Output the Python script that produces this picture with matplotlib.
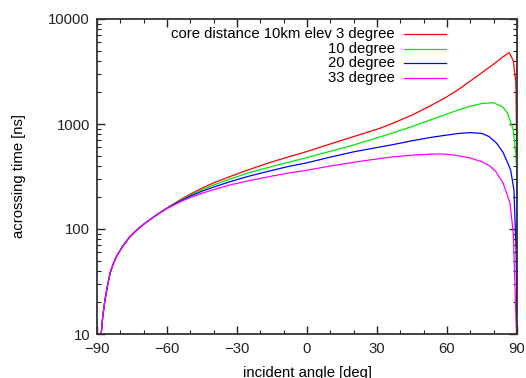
import matplotlib
matplotlib.use('Agg')
import matplotlib.pyplot as plt
from matplotlib.ticker import FixedLocator, NullFormatter, LogLocator

plt.rcParams['font.family'] = ['Liberation Sans', 'DejaVu Sans']

# shared rising part (curves overlap here)
x_start = [-88.2, -87.5, -86.6, -85.5, -84.4, -83, -81.6, -79, -76, -73, -70, -66, -62]
y_start = [10, 15, 21, 28.8, 38, 46.8, 55, 68.4, 84, 97.7, 111, 129, 148]

x_mid = [-58, -54, -50, -45, -40, -33, -25, -16, -8, 0, 10, 20, 31, 36, 45, 53]
red_mid = [169, 192, 215, 245, 275, 316, 367, 429, 486, 547, 646, 759, 906, 1000, 1216, 1496]
green_mid = [168, 189, 210, 237, 263, 299, 343, 389, 432, 479, 550, 631, 750, 813, 944, 1096]
blue_mid = [167, 186, 206, 229, 251, 282, 318, 357, 394, 427, 484, 543, 603, 631, 692, 745]
magenta_mid = [165, 183, 200, 219, 237, 263, 288, 316, 341, 363, 398, 432, 468, 484, 505, 516]

x_red_end = [60, 65, 70, 75, 80, 84, 86.7, 88.4, 89.5, 89.9, 90]
red_end = [1820, 2138, 2570, 3090, 3715, 4365, 4786, 4000, 2500, 600, 10]
x_green_end = [60, 65, 70, 75, 80, 84, 86, 88.4, 89.4, 89.85, 89.93, 90]
green_end = [1245, 1365, 1479, 1567, 1596, 1445, 1260, 877, 550, 390, 100, 10]
x_blue_end = [60, 65, 70, 75, 78, 81.3, 84, 86, 87.3, 88.7, 89.6, 89.9, 90]
blue_end = [785, 813, 828, 813, 760, 655, 537, 427, 363, 234, 63, 20, 10]
x_mag_end = [57, 63, 70, 75, 78.4, 81, 84.1, 87, 88.4, 89.1, 89.5, 89.8]
magenta_end = [519, 507, 474, 437, 398, 351, 272, 176, 91, 30.6, 15, 10]

labels = ['core distance 10km elev 3 degree', '10 degree', '20 degree', '33 degree']
colors = ['#ff0000', '#00e800', '#0000ff', '#ff00ff']

series = [
    (x_red_end, red_mid, red_end),
    (x_green_end, green_mid, green_end),
    (x_blue_end, blue_mid, blue_end),
    (x_mag_end, magenta_mid, magenta_end),
]

fig = plt.figure(figsize=(5.26, 3.78), dpi=100)
ax = fig.add_axes([97/526, 1-334/378, 420/526, 315/378])

for i, (xe, ym, ye) in enumerate(series):
    xs = x_start + x_mid + xe
    ys = y_start + ym + ye
    ax.plot(xs, ys, color=colors[i], lw=0.9)

ax.set_yscale('log')
ax.set_xlim(-90, 90)
ax.set_ylim(10, 10000)
ax.xaxis.set_major_locator(FixedLocator([-90, -60, -30, 0, 30, 60, 90]))
ax.xaxis.set_minor_locator(FixedLocator(range(-80, 90, 10)))
ax.yaxis.set_major_locator(FixedLocator([10, 100, 1000, 10000]))
ax.yaxis.set_minor_locator(LogLocator(base=10, subs=range(2, 10)))
ax.yaxis.set_minor_formatter(NullFormatter())
ax.set_yticklabels(['10', '100', '1000', '10000'])

fs = 10.7
ax.tick_params(which='both', direction='in', top=True, right=True, labelsize=fs, colors='#222222')
ax.tick_params(which='major', length=6, width=1)
ax.tick_params(which='minor', length=3, width=0.8)
ax.tick_params(axis='x', pad=6)
ax.tick_params(axis='y', pad=5)
for s in ax.spines.values():
    s.set_linewidth(1.3)
    s.set_color('#333333')

ax.set_xlabel('incident angle [deg]', fontsize=fs, labelpad=7)
ax.set_ylabel('acrossing time [ns]', fontsize=fs, labelpad=16)

# gnuplot style key, text right aligned
for i in range(4):
    yk = 0.953 - i * 0.047
    ax.text(0.7095, yk, labels[i], transform=ax.transAxes, ha='right', va='center', fontsize=fs)
    ax.plot([0.731, 0.831], [yk, yk], transform=ax.transAxes, color=colors[i], lw=0.9)

fig.savefig('out.png', dpi=100)
